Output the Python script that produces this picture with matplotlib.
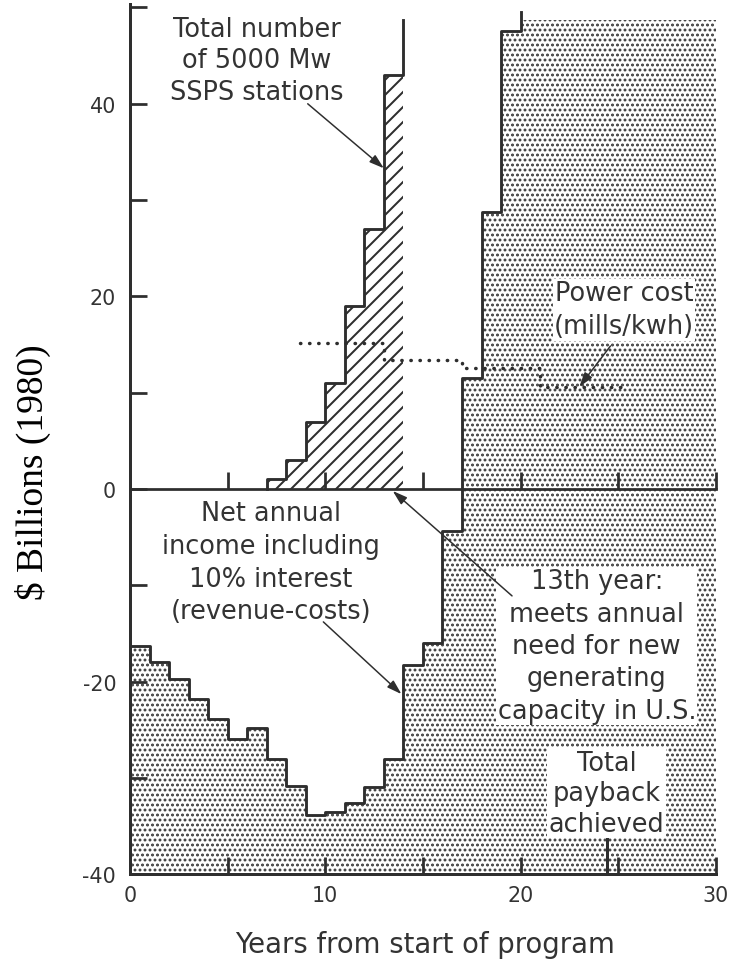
import numpy as np
import matplotlib.pyplot as plt

# years from start of program (one value per year interval)
years = np.arange(0, 31)

# net annual income incl. 10% interest, $ billions, for years 0-1, 1-2, ... 19-20
net_income = [-16.3, -18.0, -19.7, -21.8, -23.9, -26.0, -24.8, -28.0, -30.8, -33.8,
              -33.5, -32.6, -30.9, -28.0, -18.3, -16.0, -4.4, 11.5, 28.8, 47.6]

# total number of 5000 Mw SSPS stations
station_edges = [7, 8, 9, 10, 11, 12, 13, 14]
stations = [1, 3, 7, 11, 19, 27, 43]

# power cost (mills/kwh)
cost_edges = [8.7, 13, 17, 21, 25.5]
power_cost = [15.2, 13.4, 12.6, 10.6]

payback_year = 24.4
y_top = 48.7  # curves run off the top of the chart here

ink = '#2e2e2e'
dotc = '#333333'
plt.rcParams['axes.unicode_minus'] = False
plt.rcParams['font.family'] = 'DejaVu Sans'

fig = plt.figure(figsize=(741 / 90, 964 / 90), dpi=90, facecolor='white')
ax = fig.add_axes([0.1754, 0.0921, 0.7908, 0.9031])
ax.set_xlim(0, 30)
ax.set_ylim(-40, 50.4)

# stippled area under the net income curve
plt.rcParams['hatch.linewidth'] = 1.5
vals = net_income + [y_top] * (len(years) - 1 - len(net_income))
stip = ax.stairs(vals, years, baseline=-40, fill=True, facecolor='white',
                 edgecolor=dotc, hatch='...', lw=0, zorder=1)
if hasattr(stip, 'set_hatch_linewidth'):
    stip.set_hatch_linewidth(1.5)

# net income outline
ax.step(np.arange(0, len(net_income) + 1), net_income + [y_top + 0.8], where='post',
        color=ink, lw=2.3, zorder=3)

# hatched stations
plt.rcParams['hatch.linewidth'] = 1.6
hat = ax.stairs(stations, station_edges, baseline=0, fill=True, facecolor='none',
                edgecolor=ink, hatch='//', lw=0, zorder=1.5)
if hasattr(hat, 'set_hatch_linewidth'):
    hat.set_hatch_linewidth(1.6)
ax.step([station_edges[0]] + station_edges, [0] + stations + [y_top], where='post',
        color=ink, lw=2.3, zorder=3)

# power cost dotted line
ax.step(cost_edges, power_cost + [power_cost[-1]], where='post', color=ink, lw=2.8,
        linestyle=(0, (0.1, 2.5)), dash_capstyle='round', zorder=3)

# payback marker
ax.vlines(payback_year, -40, -36, color=ink, lw=2.4, zorder=3)

# zero line with its own ticks
sec = ax.secondary_xaxis(0, transform=ax.transData)
sec.set_zorder(5)
sec.set_xticks([5, 10, 15, 20, 25, 30])
sec.tick_params(direction='in', length=13.5, width=2.2, color=ink, labelbottom=False)
sec.spines['bottom'].set_linewidth(2.2)
sec.spines['bottom'].set_color(ink)

for s in ['top', 'right']:
    ax.spines[s].set_visible(False)
for s in ['left', 'bottom']:
    ax.spines[s].set_linewidth(2.4)
    ax.spines[s].set_color(ink)

ax.set_yticks([-40, -20, 0, 20, 40])
ax.set_yticks([-30, -10, 10, 30, 50], minor=True)
ax.set_xticks([0, 10, 20, 30])
ax.set_xticks([5, 15, 25], minor=True)
ax.tick_params(axis='both', which='both', direction='in', length=13.5, width=2.2,
               color=ink, labelcolor='#333333', labelsize=16.5)
ax.tick_params(axis='y', pad=11)
ax.tick_params(axis='x', pad=9)

ax.set_xlabel('Years from start of program', fontsize=22, color='#333333')
ax.xaxis.set_label_coords(0.503, -0.080)
ax.xaxis.label.set_va('center')
ax.set_ylabel('$ Billions (1980)', fontsize=30, family='Liberation Serif', color='black')
ax.yaxis.set_label_coords(-0.1655, 0.463)
ax.yaxis.label.set_va('center')

tkw = dict(fontsize=20.5, color='#333333', ha='center', va='center', zorder=6)
wbox = dict(facecolor='white', edgecolor='none', pad=1.0)
ax.text(6.5, 44.5, 'Total number\nof 5000 Mw\nSSPS stations', linespacing=1.28, **tkw)
ax.text(7.2, -7.6, 'Net annual\nincome including\n10% interest\n(revenue-costs)',
        linespacing=1.34, **tkw)
ax.text(25.3, 18.6, 'Power cost\n(mills/kwh)', linespacing=1.35, bbox=wbox, **tkw)
ax.text(23.9, -16.3, '13th year:\nmeets annual\nneed for new\ngenerating\ncapacity in U.S.',
        linespacing=1.32, bbox=wbox, **tkw)
ax.text(24.4, -31.6, 'Total\npayback\nachieved', linespacing=1.24, bbox=wbox, **tkw)

akw = dict(arrowstyle='-|>,head_length=0.7,head_width=0.22', color=ink, lw=1.2,
           mutation_scale=14, shrinkA=0, shrinkB=0)
ax.annotate('', xy=(13, 33.3), xytext=(9.1, 40.0), arrowprops=akw, zorder=6)
ax.annotate('', xy=(13.9, -21.3), xytext=(9.9, -13.8), arrowprops=akw, zorder=6)
ax.annotate('', xy=(13.45, -0.2), xytext=(19.56, -11.1), arrowprops=akw, zorder=6)
ax.annotate('', xy=(23.0, 10.6), xytext=(24.6, 14.85), arrowprops=akw, zorder=6)

fig.savefig('out.png', dpi=90, facecolor='white')
